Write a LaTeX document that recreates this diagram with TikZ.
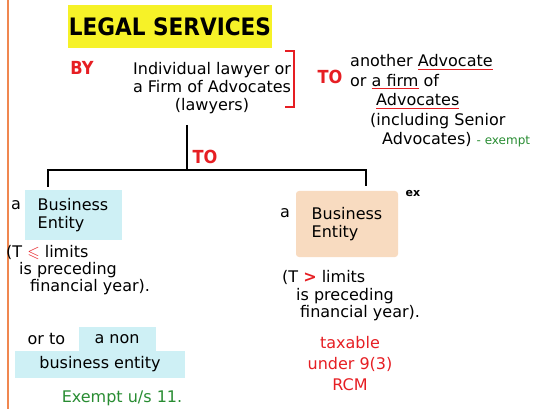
\documentclass[tikz,border=0pt]{standalone}
\usepackage{amssymb}
\usepackage{fontspec}
\setmainfont{DejaVu Sans}
\newfontfamily\condfont{DejaVu Sans Condensed}
\usetikzlibrary{positioning}

\definecolor{hlyellow}{RGB}{246,242,40}
\definecolor{hlcyan}{RGB}{206,240,245}
\definecolor{hlpeach}{RGB}{248,219,192}
\definecolor{inkred}{RGB}{230,30,35}
\definecolor{inkgreen}{RGB}{40,140,50}
\definecolor{marginorange}{RGB}{240,135,80}

% red underline under black words
\newcommand{\redul}[1]{{\color{inkred}$\underline{\hbox{\color{black}#1}}$}}

\begin{document}
\begin{tikzpicture}[x=1pt, y=-1pt,
    every node/.style={inner sep=0pt, font=\fontsize{16}{18}\selectfont},
    title/.style={fill=hlyellow, minimum width=204pt, minimum height=43pt, font=\condfont\bfseries\fontsize{24}{26}\selectfont},
    redword/.style={text=inkred, font=\condfont\bfseries\fontsize{18}{20}\selectfont},
    hand/.style={align=left},
    cyanbox/.style={fill=hlcyan, align=left, inner xsep=6pt, inner ysep=5pt},
    peachbox/.style={fill=hlpeach, rounded corners=3pt, align=left, inner xsep=8pt, inner ysep=8pt},
    tree/.style={line width=2.6pt}
]
    \useasboundingbox (0,0) rectangle (560,409);
    \draw[marginorange, line width=1.2pt] (8,0) -- (8,409);

    \node[title] (head) at (170,27) {LEGAL SERVICES};

    \node[redword] (by) at (82,68) {BY};
    \node[hand, align=center] (provider) at (212,88) {Individual lawyer or\\a Firm of Advocates\\(lawyers)};
    \draw[inkred, line width=1.4pt] (285,51) -- (294,51) -- (294,107) -- (285,107);
    \node[redword] (toright) at (330,77) {TO};
    \node[hand, anchor=west, font=\fontsize{16}{19.5}\selectfont] (recipient) at (350,101)
        {another \redul{Advocate}\\or \redul{a firm} of\\\hspace*{26pt}\redul{Advocates}\\\hspace*{20pt}(including Senior\\\hspace*{32pt}Advocates) \textcolor{inkgreen}{\fontsize{12}{12}\selectfont- exempt}};

    % tree below the provider
    \coordinate (stemtop) at (187,125);
    \coordinate (split) at (187,170);
    \coordinate (ldrop) at (48,187);
    \coordinate (rdrop) at (366,186);
    \draw[tree] (stemtop) -- (split);
    \draw[tree] (ldrop) |- (split) -| (rdrop);
    \node[redword] (todown) at (205,157) {TO};

    % left branch
    \node[cyanbox, minimum width=97pt, minimum height=50pt] (lentity) at (73,215) {Business\\Entity};
    \node (la) at (16,205) {a};
    \node[hand, anchor=west, font=\fontsize{16}{17}\selectfont] (lcond) at (6,270)
        {(T \textcolor{inkred}{$\leqslant$} limits\\\hspace*{13pt}is preceding\\\hspace*{24pt}financial year).};
    \node[fill=hlcyan, minimum width=170pt, minimum height=27pt] (bizent) at (100,364) {business entity};
    \node[fill=hlcyan, minimum width=77pt, minimum height=25pt] (anon) at (117,339) {a non};
    \node[left=13pt of anon] (orto) {or to};
    \node[text=inkgreen] (lexempt) at (122,398) {Exempt u/s 11.};

    % right branch
    \node[peachbox, minimum width=102pt, minimum height=66pt] (rentity) at (347,224) {Business\\Entity};
    \node (ra) at (285,213) {a};
    \node[font=\bfseries\fontsize{11}{12}\selectfont] (ex) at (413,193) {ex};
    \node[hand, anchor=west, font=\fontsize{16}{17.5}\selectfont] (rcond) at (282,296)
        {(T \textcolor{inkred}{\textbf{>}} limits\\\hspace*{14pt}is preceding\\\hspace*{18pt}financial year).};
    \node[align=center, text=inkred, font=\fontsize{16}{21}\selectfont] (rcm) at (350,364) {taxable\\under 9(3)\\RCM};
\end{tikzpicture}
\end{document}
